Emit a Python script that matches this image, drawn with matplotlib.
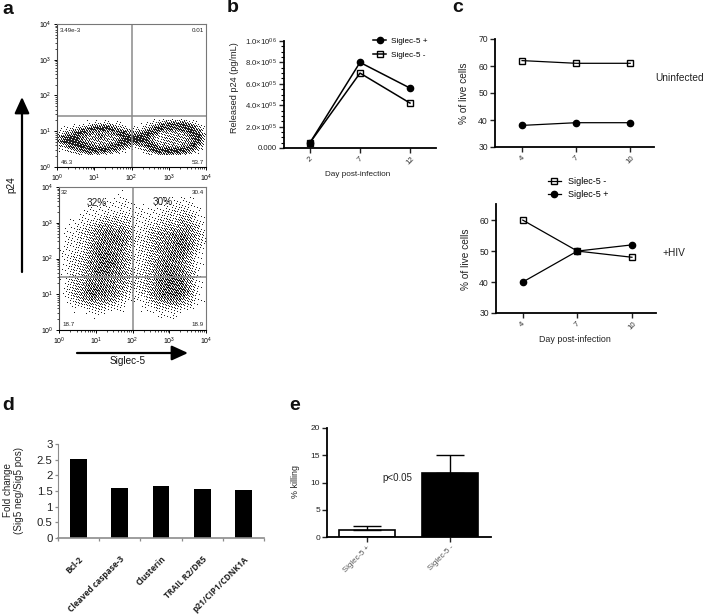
#!/usr/bin/env python3
"""Multi-panel Siglec-5 figure: flow plots, time courses and two bar charts."""

import matplotlib
matplotlib.use("Agg")
import matplotlib.pyplot as plt
import numpy as np
from matplotlib.transforms import Affine2D

W, H = 704, 616

# panel a: hand-read darkness of the flow plots (0 white .. 9 black), top row first
flow_top = [
    [0, 0, 0, 0, 0, 0, 0, 0, 0, 0, 0, 0, 0, 0, 0, 0, 1, 1, 1, 1, 1, 0, 0, 0],
    [0, 0, 0, 0, 0, 1, 2, 2, 2, 1, 0, 0, 0, 0, 1, 2, 4, 6, 7, 7, 6, 3, 1, 0],
    [0, 1, 1, 2, 4, 6, 8, 8, 8, 6, 3, 1, 1, 1, 3, 7, 8, 6, 6, 6, 8, 7, 3, 1],
    [1, 2, 4, 7, 8, 5, 4, 4, 4, 6, 8, 5, 3, 5, 8, 6, 3, 3, 3, 3, 4, 8, 6, 1],
    [3, 6, 8, 7, 4, 3, 4, 5, 3, 3, 6, 8, 8, 8, 7, 3, 2, 3, 3, 3, 3, 6, 8, 2],
    [3, 7, 8, 8, 5, 3, 3, 3, 3, 4, 7, 8, 8, 8, 7, 3, 2, 3, 3, 3, 3, 6, 7, 1],
    [1, 3, 6, 8, 8, 6, 4, 4, 5, 7, 7, 4, 2, 3, 7, 7, 3, 3, 3, 3, 5, 8, 4, 0],
    [0, 1, 2, 4, 6, 8, 8, 8, 7, 5, 2, 1, 0, 1, 3, 7, 8, 8, 8, 8, 7, 4, 1, 0],
    [0, 0, 0, 1, 2, 3, 3, 2, 1, 1, 0, 0, 0, 0, 1, 2, 4, 5, 5, 4, 2, 1, 0, 0],
]
flow_bottom = [
    [0, 0, 0, 0, 0, 0, 0, 0, 0, 0, 0, 0, 0, 0, 0, 0, 0, 0, 0, 0],
    [0, 0, 0, 0, 0, 0, 0, 0, 1, 0, 0, 0, 0, 0, 0, 0, 0, 0, 0, 0],
    [0, 0, 0, 0, 0, 0, 1, 1, 1, 1, 0, 0, 0, 0, 1, 1, 1, 1, 0, 0],
    [0, 0, 0, 0, 1, 1, 1, 1, 1, 1, 1, 1, 1, 1, 1, 2, 2, 1, 1, 0],
    [0, 0, 0, 1, 1, 1, 2, 2, 2, 2, 1, 1, 1, 1, 2, 2, 3, 3, 1, 0],
    [0, 0, 1, 1, 2, 3, 4, 4, 3, 3, 1, 1, 2, 2, 3, 3, 4, 4, 2, 0],
    [0, 1, 1, 2, 3, 5, 6, 6, 5, 4, 1, 1, 3, 4, 4, 5, 5, 5, 3, 1],
    [0, 1, 1, 2, 3, 5, 6, 6, 6, 4, 2, 2, 3, 4, 5, 6, 7, 5, 3, 1],
    [0, 1, 1, 2, 4, 6, 6, 6, 5, 3, 1, 2, 3, 5, 5, 6, 7, 5, 2, 1],
    [1, 1, 2, 2, 4, 6, 7, 6, 5, 3, 1, 2, 3, 4, 6, 6, 6, 4, 1, 0],
    [0, 1, 2, 3, 5, 6, 7, 7, 5, 3, 1, 2, 3, 5, 6, 6, 5, 3, 1, 0],
    [0, 1, 2, 3, 5, 7, 7, 6, 5, 3, 1, 2, 3, 5, 7, 6, 5, 3, 1, 0],
    [0, 1, 2, 3, 5, 6, 6, 6, 5, 3, 2, 2, 4, 6, 7, 7, 6, 4, 1, 0],
    [0, 1, 3, 4, 6, 6, 6, 5, 4, 3, 2, 2, 4, 6, 7, 7, 7, 4, 1, 0],
    [0, 1, 3, 5, 7, 7, 6, 5, 4, 2, 1, 2, 4, 6, 7, 7, 7, 4, 1, 0],
    [0, 1, 2, 4, 5, 5, 5, 4, 2, 1, 1, 1, 3, 5, 6, 6, 5, 3, 1, 0],
    [0, 0, 1, 1, 2, 2, 2, 1, 1, 0, 0, 1, 1, 2, 2, 3, 2, 1, 0, 0],
    [0, 0, 0, 0, 0, 1, 0, 0, 0, 0, 0, 0, 0, 1, 1, 1, 0, 0, 0, 0],
    [0, 0, 0, 0, 0, 0, 0, 0, 0, 0, 0, 0, 0, 0, 0, 0, 0, 0, 0, 0],
    [0, 0, 0, 0, 0, 0, 0, 0, 0, 0, 0, 0, 0, 0, 0, 0, 0, 0, 0, 0],
]
flow_decades = [0, 1, 2, 3, 4]
flow_labels_top = ["3.49e-3", "0.01", "46.3", "53.7"]
flow_labels_bottom = ["32", "30.4", "18.7", "18.9"]

# panel b
days_b = ["2", "7", "12"]
p24_pos = [0.5e5, 8.0e5, 5.6e5]
p24_neg = [0.5e5, 7.0e5, 4.2e5]
p24_ticks = [0, 2e5, 4e5, 6e5, 8e5, 10e5]
p24_ticklabels = ["0.000", "2.0×10$^{05}$", "4.0×10$^{05}$", "6.0×10$^{05}$", "8.0×10$^{05}$", "1.0×10$^{06}$"]

# panel c
days_c = ["4", "7", "10"]
uninf_neg = [62, 61, 61]
uninf_pos = [38, 39, 39]
hiv_neg = [60, 50, 48]
hiv_pos = [40, 50, 52]

# panel d
genes = ["Bcl-2", "Cleaved caspase-3", "Clusterin", "TRAIL R2/DR5", "p21/CIP1/CDNK1A"]
fold_change = [2.53, 1.6, 1.66, 1.57, 1.52]
fold_ticks = [0, 0.5, 1, 1.5, 2, 2.5, 3]
fold_ticklabels = ["0", "0.5", "1", "1.5", "2", "2.5", "3"]

# panel e
killing_groups = ["Siglec-5 +", "Siglec-5 -"]
killing = [1.3, 11.7]
killing_err = [0.8, 3.3]

plt.rcParams["font.family"] = ["Liberation Sans", "DejaVu Sans"]
plt.rcParams["mathtext.default"] = "regular"

fig = plt.figure(figsize=(W / 100, H / 100), dpi=100)
PX = Affine2D().scale(1 / W, -1 / H).translate(0, 1) + fig.transFigure


def axes_px(left, top, right, bottom):
    return fig.add_axes([left / W, 1 - bottom / H, (right - left) / W, (bottom - top) / H])


def put(x, y, s, **kw):
    kw.setdefault("ha", "center")
    kw.setdefault("va", "center")
    fig.text(x, y, s, transform=PX, **kw)


def dither(grid, nx, ny, full_scale):
    # fixed gradient threshold, so the flow plots read as dots and not as a smooth blur
    g = np.array(grid, dtype=float)
    xs = np.linspace(0, g.shape[1] - 1, nx)
    ys = np.linspace(0, g.shape[0] - 1, ny)
    rows = np.array([np.interp(xs, np.arange(g.shape[1]), r) for r in g])
    fine = np.array([np.interp(ys, np.arange(g.shape[0]), c) for c in rows.T]).T
    jj, ii = np.meshgrid(np.arange(nx), np.arange(ny))
    thr = (52.9829189 * ((0.06711056 * jj + 0.00583715 * ii) % 1.0)) % 1.0
    return (fine / full_scale > thr).astype(float)


def style_graph(ax, size=6.0):
    ax.spines["top"].set_visible(False)
    ax.spines["right"].set_visible(False)
    ax.spines["left"].set_linewidth(1.3)
    ax.spines["bottom"].set_linewidth(1.3)
    ax.tick_params(width=1.0, length=3.5, labelsize=size, pad=1.5, colors="#222222")


def rotate_labels(ax, size, color="#333333", weight="normal"):
    for lab in ax.get_xticklabels():
        lab.set_rotation(45)
        lab.set_fontsize(size)
        lab.set_color(color)
        lab.set_fontweight(weight)


def flow_panel(ax, dots, extent, gate_y, show_corners):
    ax.imshow(dots, extent=extent, cmap="gray_r", vmin=0, vmax=1.15, aspect="auto",
              interpolation="bilinear", origin="upper")
    ax.set_xlim(0, 4)
    ax.set_ylim(0, 4)
    ax.axvline(2, color="#8a8a8a", lw=1.1)
    ax.axhline(gate_y, color="#8a8a8a", lw=1.1)
    minor = [d + np.log10(m) for d in flow_decades[:-1] for m in range(2, 10)]
    labels = ["$10^{%d}$" % d for d in flow_decades]
    ax.set_xticks(flow_decades, labels)
    ax.set_yticks(flow_decades, labels)
    ax.set_xticks(minor, minor=True)
    ax.set_yticks(minor, minor=True)
    ax.tick_params(which="major", length=2.5, width=0.7, labelsize=5, pad=1.5)
    ax.tick_params(which="minor", length=1.3, width=0.5)
    ax.spines["top"].set_color("#777777")
    ax.spines["right"].set_color("#777777")
    ax.spines["left"].set_color("#444444")
    for sp in ax.spines.values():
        sp.set_linewidth(0.8)
    for (x, y, s, ha) in show_corners:
        put(x, y, s, fontsize=4.5, ha=ha, color="#222222")


# panel a
ax = axes_px(57, 24, 206, 167)
flow_panel(ax, dither(flow_top, 149, 36, 9.0), (0, 4, 0.34, 1.33), 1.43, [
    (60, 30, flow_labels_top[0], "left"), (204, 30, flow_labels_top[1], "right"),
    (61, 163, flow_labels_top[2], "left"), (204, 163, flow_labels_top[3], "right"),
])
ax = axes_px(59, 187, 206, 330)
flow_panel(ax, dither(flow_bottom, 147, 143, 11.0), (0, 4, 0, 4), 1.48, [
    (61, 193, flow_labels_bottom[0], "left"), (204, 193, flow_labels_bottom[1], "right"),
    (62, 325, flow_labels_bottom[2], "left"), (204, 325, flow_labels_bottom[3], "right"),
])
put(97, 203, "32%", fontsize=7.2, color="#222222")
put(163, 202, "30%", fontsize=7.2, color="#222222")
put(128, 361, "Siglec-5", fontsize=7.2, color="#111111")
put(11, 185, "p24", fontsize=7.2, rotation=90, color="#111111")
arrow = dict(arrowstyle="-|>,head_width=0.32,head_length=0.7", color="black", lw=1.6, shrinkA=0, shrinkB=0)
fig.add_artist(matplotlib.patches.FancyArrowPatch((22, 272), (22, 97), transform=PX, mutation_scale=14, **arrow))
fig.add_artist(matplotlib.patches.FancyArrowPatch((77, 353), (188, 353), transform=PX, mutation_scale=14, **arrow))

# panel b
ax = axes_px(284, 41, 436, 148)
x_idx = range(len(days_b))
ax.plot(x_idx, p24_pos, "-o", color="black", lw=1.1, ms=4.5, label="Siglec-5 +")
ax.plot(x_idx, p24_neg, "-s", color="black", mfc="none", mew=1.0, lw=1.1, ms=4.5, label="Siglec-5 -")
ax.set_xlim(-0.52, 2.52)
ax.set_ylim(0, 10e5)
ax.set_xticks(list(x_idx), days_b)
ax.set_yticks(p24_ticks, p24_ticklabels)
ax.set_yticks(np.arange(0, 10.1e5, 0.5e5), minor=True)
style_graph(ax, 5.6)
ax.tick_params(which="minor", length=2, width=0.8)
rotate_labels(ax, 5.6)
ax.set_ylabel("Released p24 (pg/mL)", fontsize=6.6, color="#222222")
ax.yaxis.set_label_coords(239, 88, transform=PX)
ax.set_xlabel("Day post-infection", fontsize=5.9, color="#222222")
ax.xaxis.set_label_coords(358, 171, transform=PX)
ax.legend(loc="upper left", bbox_to_anchor=(371, 35), bbox_transform=PX, frameon=False, fontsize=5.9,
          handlelength=1.5, handletextpad=0.7, labelspacing=0.75, borderpad=0.3, borderaxespad=0)

# panel c top
ax = axes_px(495, 39, 654, 147)
x_idx = range(len(days_c))
ax.plot(x_idx, uninf_neg, "-s", color="black", mfc="none", mew=1.0, lw=0.9, ms=4.8)
ax.plot(x_idx, uninf_pos, "-o", color="black", lw=0.9, ms=4.5)
ax.set_xlim(-0.5, 2.44)
ax.set_ylim(30, 70)
ax.set_xticks(list(x_idx), days_c)
ax.set_yticks([30, 40, 50, 60, 70])
style_graph(ax, 6.2)
rotate_labels(ax, 5.6)
ax.set_ylabel("% of live cells", fontsize=7.3, color="#222222")
ax.yaxis.set_label_coords(469, 93, transform=PX)
put(655, 78, "Uninfected", fontsize=7.3, ha="left", color="#222222")

# panel c bottom
ax = axes_px(496, 204, 656, 313)
neg_line, = ax.plot(x_idx, hiv_neg, "-s", color="black", mfc="none", mew=1.0, lw=0.9, ms=4.8, label="Siglec-5 -")
pos_line, = ax.plot(x_idx, hiv_pos, "-o", color="black", lw=0.9, ms=4.5, label="Siglec-5 +")
ax.set_xlim(-0.49, 2.44)
ax.set_ylim(30, 65.2)
ax.set_xticks(list(x_idx), days_c)
ax.set_yticks([30, 40, 50, 60])
style_graph(ax, 6.2)
rotate_labels(ax, 5.6)
ax.set_ylabel("% of live cells", fontsize=7.3, color="#222222")
ax.yaxis.set_label_coords(471, 259, transform=PX)
ax.set_xlabel("Day post-infection", fontsize=6.4, color="#222222")
ax.xaxis.set_label_coords(575, 335, transform=PX)
ax.legend(handles=[neg_line, pos_line], loc="upper left", bbox_to_anchor=(545, 174), bbox_transform=PX,
          frameon=False, fontsize=6.5, handlelength=1.5, handletextpad=0.7, labelspacing=0.45,
          borderpad=0.3, borderaxespad=0)
put(662, 253, "+HIV", fontsize=7.3, ha="left", color="#222222")

# panel d
ax = axes_px(58, 444, 264, 538)
x_idx = range(len(genes))
ax.bar(x_idx, fold_change, width=0.41, color="black")
ax.set_xlim(-0.5, 4.5)
ax.set_ylim(0, 3)
ax.set_xticks(list(x_idx), genes)
ax.set_xticks(np.arange(-0.5, 5), minor=True)
ax.set_yticks(fold_ticks, fold_ticklabels)
ax.spines["top"].set_visible(False)
ax.spines["right"].set_visible(False)
ax.spines["left"].set_color("#8c8c8c")
ax.spines["bottom"].set_color("#8c8c8c")
ax.spines["bottom"].set_linewidth(1.2)
ax.tick_params(axis="x", which="major", length=0, pad=12)
ax.tick_params(axis="x", which="minor", length=2, width=0.9, color="#8c8c8c")
ax.tick_params(axis="y", length=2, width=0.9, color="#8c8c8c", labelsize=8.2, pad=2, labelcolor="#222222")
for lab in ax.get_xticklabels():
    lab.set_rotation(45)
    lab.set_ha("right")
    lab.set_rotation_mode("anchor")
    lab.set_fontsize(6.0)
    lab.set_fontfamily("Open Sans")
    lab.set_fontweight("bold")
    lab.set_color("#222222")
ax.set_ylabel("Fold change\n(Sig5 neg/Sig5 pos)", fontsize=7.1, color="#222222", linespacing=1.15)
ax.yaxis.set_label_coords(24, 490, transform=PX)

# panel e
ax = axes_px(327, 428, 491, 537)
x_idx = range(len(killing_groups))
ax.bar(x_idx, killing, width=0.675, color=["white", "black"], edgecolor="black", lw=1.2)
ax.errorbar(x_idx, killing, yerr=[[0, 0], killing_err], fmt="none", ecolor="black", elinewidth=1.0,
            capsize=10, capthick=1.0)
ax.set_xlim(-0.48, 1.49)
ax.set_ylim(0, 20)
ax.set_xticks(list(x_idx), killing_groups)
ax.set_yticks([0, 5, 10, 15, 20])
style_graph(ax, 6.0)
for lab in ax.get_xticklabels():
    lab.set_rotation(45)
    lab.set_ha("right")
    lab.set_rotation_mode("anchor")
    lab.set_fontsize(5.6)
    lab.set_color("#555555")
ax.set_ylabel("% killing", fontsize=6.4, color="#222222")
ax.yaxis.set_label_coords(300, 482, transform=PX)
put(397, 478, "p<0.05", fontsize=7.0, color="#222222")

# panel letters
for (x, y, s) in [(8, 9, "a"), (233, 8, "b"), (458, 8, "c"), (8, 406, "d"), (295, 406, "e")]:
    put(x, y, s, fontsize=14, fontweight="bold", color="#111111")

fig.savefig("out.png", dpi=100)
plt.close(fig)
